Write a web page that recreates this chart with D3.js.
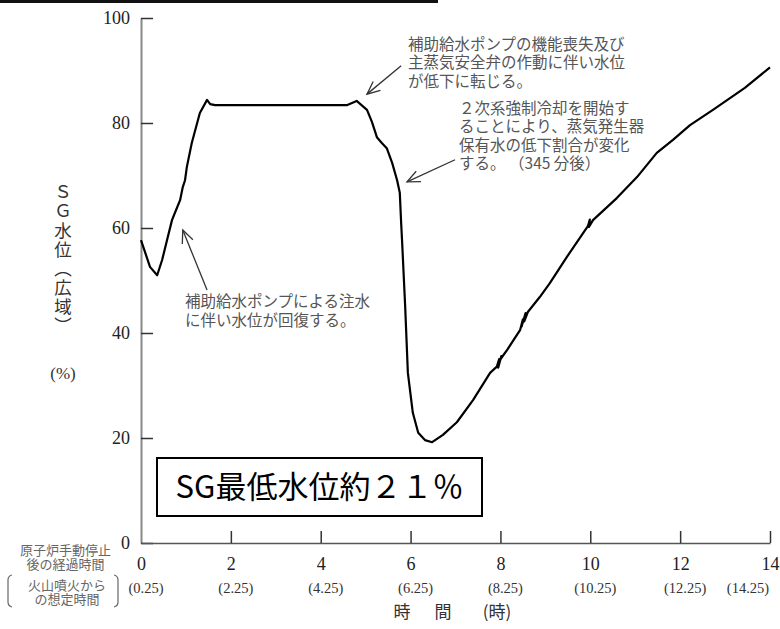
<!DOCTYPE html>
<html>
<head>
<meta charset="utf-8">
<script src="https://cdn.jsdelivr.net/npm/d3@7"></script>
<style>
  body { margin: 0; background: #fff; }
  svg { display: block; }
</style>
</head>
<body>
<div id="chart"></div>
<script>
// hours after manual reactor shutdown vs SG water level (wide range, %)
const hours = [0, 0.09, 0.2, 0.36, 0.47, 0.58, 0.69, 0.76, 0.87, 0.93, 0.98, 1.02, 1.13, 1.25, 1.31, 1.47, 1.54, 1.65, 2.5, 3.5, 4.58, 4.8, 5.03, 5.14, 5.25, 5.36, 5.47, 5.59, 5.7, 5.76, 5.79, 5.81, 5.88, 5.94, 6.05, 6.17, 6.32, 6.48, 6.72, 7.03, 7.39, 7.77, 7.92, 7.97, 7.95, 8.02, 8.0, 8.15, 8.44, 8.5, 8.47, 8.56, 8.53, 8.61, 8.88, 9.1, 9.48, 9.95, 9.99, 9.97, 10.06, 10.59, 11.04, 11.48, 11.84, 12.22, 12.73, 13.44, 14];
const level = [57.7, 55.4, 52.6, 51.0, 53.9, 57.7, 61.5, 63.0, 65.3, 67.8, 69.1, 71.6, 76.2, 80.0, 81.9, 84.4, 83.6, 83.4, 83.4, 83.4, 83.4, 84.2, 82.5, 80.2, 77.3, 76.2, 75.2, 72.4, 69.1, 66.7, 61.0, 57.7, 45.0, 32.4, 24.8, 21.0, 19.6, 19.2, 20.6, 23.0, 27.2, 32.4, 33.6, 35.0, 33.4, 35.6, 35.0, 36.8, 40.6, 42.6, 41.2, 43.8, 42.2, 44.0, 46.9, 49.5, 54.5, 60.4, 61.6, 60.2, 61.5, 65.7, 69.7, 74.3, 76.8, 79.6, 82.5, 86.7, 90.6];

const yTicks = [0, 20, 40, 60, 80, 100];
const xTicks = [0, 2, 4, 6, 8, 10, 12, 14];
const eruptionLabels = ["(0.25)", "(2.25)", "(4.25)", "(6.25)", "(8.25)", "(10.25)", "(12.25)", "(14.25)"];

const yTitle = "ＳＧ水位（広域）";
const rowCaption1 = ["原子炉手動停止", "後の経過時間"];
const rowCaption2 = ["火山噴火から", "の想定時間"];
const notes = [
  { lines: ["補助給水ポンプの機能喪失及び", "主蒸気安全弁の作動に伴い水位", "が低下に転じる。"], tip: [5.03, 85.5], tail: [5.79, 90.9], at: [5.94, 94] },
  { lines: ["２次系強制冷却を開始す", "ることにより、蒸気発生器", "保有水の低下割合が変化", "する。 （345 分後）"], tip: [5.92, 68.8], tail: [6.99, 73], at: [7.08, 81.8] },
  { lines: ["補助給水ポンプによる注水", "に伴い水位が回復する。"], tip: [0.93, 59.6], tail: [1.47, 48.2], at: [0.98, 44.9] }
];
const boxText = "SG最低水位約２１％";

const W = 780, H = 629;
const svg = d3.select("#chart").append("svg")
    .attr("width", W)
    .attr("height", H);

const x = d3.scaleLinear().domain([0, 14]).range([141, 770]);
const y = d3.scaleLinear().domain([0, 100]).range([543, 18]);

const serif = "'Liberation Serif', 'DejaVu Serif', serif";
const jp = "'Noto Sans CJK JP', sans-serif";

// black bar at top edge (crop of the slide)
svg.append("rect").attr("x", 0).attr("y", 0).attr("width", 438).attr("height", 3).attr("fill", "#111");

// y axis
const yAxis = svg.append("g")
    .attr("transform", `translate(${x(0)},0)`)
    .call(d3.axisLeft(y).tickValues(yTicks).tickSize(-12).tickSizeOuter(0).tickPadding(11));
yAxis.select(".domain").attr("stroke", "#888").attr("stroke-width", 2);
yAxis.selectAll(".tick line").attr("stroke", "#333").attr("stroke-width", 1.5);
yAxis.selectAll(".tick text")
    .style("font-family", serif).style("font-size", "18px").attr("fill", "#222");

// x axis
const xAxis = svg.append("g")
    .attr("transform", `translate(0,${y(0)})`)
    .call(d3.axisBottom(x).tickValues(xTicks).tickSize(-12).tickSizeOuter(0).tickPadding(14));
xAxis.select(".domain").attr("stroke", "#555").attr("stroke-width", 1.6);
xAxis.selectAll(".tick line").attr("stroke", "#333").attr("stroke-width", 1.5);
xAxis.selectAll(".tick line").filter(d => d === 0).remove();
xAxis.selectAll(".tick text")
    .style("font-family", serif).style("font-size", "18px").attr("fill", "#222");

// second row of x labels (time from eruption)
svg.append("g").selectAll("text")
  .data(xTicks)
  .join("text")
    .attr("x", d => Math.min(x(d) + 5, W - 32))
    .attr("y", 593)
    .attr("text-anchor", "middle")
    .style("font-family", serif)
    .style("font-size", "14.5px")
    .attr("fill", "#333")
    .text((d, i) => eruptionLabels[i]);

// multi-line text helper: one <text>, one <tspan> per line
const multiline = (g, lines, x0, y0, step) => {
  const t = g.append("text").attr("x", x0).attr("y", y0);
  t.selectAll("tspan")
    .data(lines)
    .join("tspan")
      .attr("x", x0)
      .attr("dy", (d, i) => i === 0 ? 0 : step)
      .text(d => d);
  return t;
};

// left row captions
const cap = svg.append("g").style("font-family", jp).style("font-size", "13px").attr("fill", "#666").attr("text-anchor", "middle");
multiline(cap, rowCaption1, 65.5, 555, 14);
multiline(cap, rowCaption2, 67, 590, 14);
svg.append("path").attr("d", "M12,575 Q8,576 8,580 L8,602 Q8,606 12,607")
    .attr("fill", "none").attr("stroke", "#666").attr("stroke-width", 1.2);
svg.append("path").attr("d", "M114,575 Q118,576 118,580 L118,602 Q118,606 114,607")
    .attr("fill", "none").attr("stroke", "#666").attr("stroke-width", 1.2);

// x axis title
const xt = svg.append("g").attr("fill", "#333").style("font-size", "17px");
xt.append("text").attr("x", 402).attr("y", 618).attr("text-anchor", "middle").style("font-family", jp).text("時");
xt.append("text").attr("x", 443).attr("y", 618).attr("text-anchor", "middle").style("font-family", jp).text("間");
xt.append("text").attr("x", 497).attr("y", 618).attr("text-anchor", "middle").style("font-family", jp).text("(時)");

// y axis title, vertical writing
svg.append("text")
    .attr("x", 63)
    .attr("y", 183)
    .style("writing-mode", "vertical-rl")
    .style("text-orientation", "upright")
    .style("font-family", jp)
    .style("font-size", "17.5px")
    .style("letter-spacing", "1.6px")
    .attr("fill", "#333")
    .text(yTitle);
svg.append("text").attr("x", 63).attr("y", 379).attr("text-anchor", "middle")
    .style("font-family", serif).style("font-size", "17px").attr("fill", "#333").text("(%)");

// the curve
const line = d3.line()
    .x(d => x(d[0]))
    .y(d => y(d[1]));
svg.append("path")
    .datum(hours.map((h, i) => [h, level[i]]))
    .attr("d", line)
    .attr("fill", "none")
    .attr("stroke", "#000")
    .attr("stroke-width", 2.2)
    .attr("stroke-linejoin", "round");

// annotations with open arrows
const arrowHead = (tip, tail, len) => {
  const a = Math.atan2(tail[1] - tip[1], tail[0] - tip[0]);
  const s = 0.42;
  return `M${tip[0] + len * Math.cos(a + s)},${tip[1] + len * Math.sin(a + s)}L${tip[0]},${tip[1]}L${tip[0] + len * Math.cos(a - s)},${tip[1] + len * Math.sin(a - s)}`;
};
const noteLayer = svg.append("g").style("font-family", jp).style("font-size", "15.5px").attr("fill", "#555");
notes.forEach(n => {
  const tip = [x(n.tip[0]), y(n.tip[1])];
  const tail = [x(n.tail[0]), y(n.tail[1])];
  svg.append("line")
      .attr("x1", tail[0]).attr("y1", tail[1])
      .attr("x2", tip[0]).attr("y2", tip[1])
      .attr("stroke", "#333").attr("stroke-width", 1.3);
  svg.append("path")
      .attr("d", arrowHead(tip, tail, 14))
      .attr("fill", "none").attr("stroke", "#333").attr("stroke-width", 1.3);
  multiline(noteLayer, n.lines, x(n.at[0]), y(n.at[1]), 18.5);
});

// minimum level box
svg.append("rect")
    .attr("x", 157).attr("y", 458).attr("width", 325).attr("height", 58)
    .attr("fill", "#fff").attr("stroke", "#000").attr("stroke-width", 2);
svg.append("text")
    .attr("x", 319.5).attr("y", 498)
    .attr("text-anchor", "middle")
    .style("font-family", jp)
    .style("font-size", "31px")
    .attr("fill", "#000")
    .text(boxText);
</script>
</body>
</html>
